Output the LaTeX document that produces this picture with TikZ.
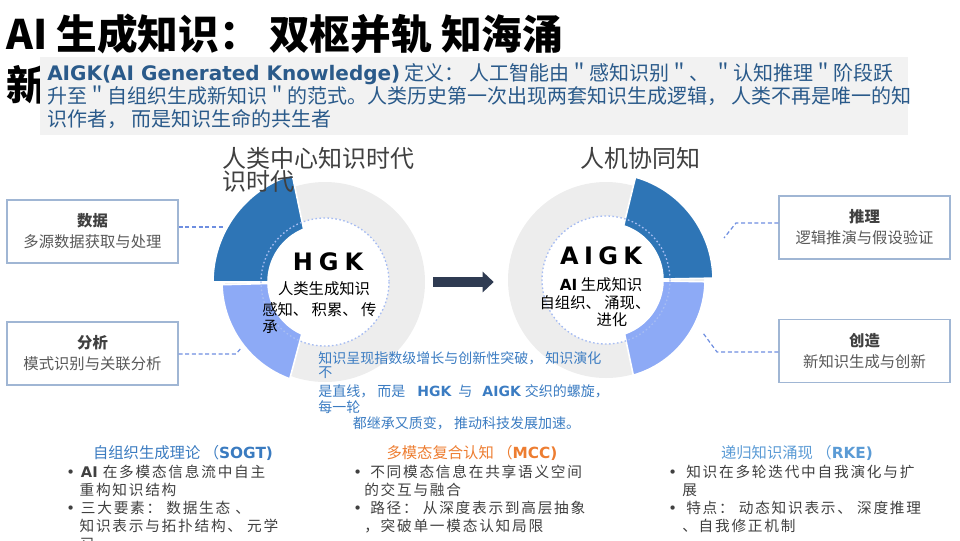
\documentclass[tikz,border=0pt]{standalone}
\usepackage{fontspec}
\setmainfont{Noto Sans CJK SC}
\newfontfamily\dv{DejaVu Sans}
\newfontfamily\cjkwide{Noto Sans CJK SC}[LetterSpace=12]
\usepackage{tikz}
\usetikzlibrary{arrows.meta,calc}
\definecolor{segdark}{RGB}{46,117,182}
\definecolor{seglight}{RGB}{141,170,246}
\definecolor{ringgray}{RGB}{237,237,237}
\definecolor{dotblue}{RGB}{166,188,242}
\definecolor{linkblue}{RGB}{110,142,224}
\definecolor{boxline}{RGB}{160,182,212}
\definecolor{navy}{RGB}{47,59,82}
\definecolor{descbg}{RGB}{242,242,242}
\definecolor{descblue}{RGB}{42,90,138}
\definecolor{trendblue}{RGB}{59,124,194}
\definecolor{headblue}{RGB}{58,123,192}
\definecolor{headorange}{RGB}{237,125,49}
\definecolor{headlight}{RGB}{91,155,213}
\definecolor{darkgray}{RGB}{64,64,64}
\definecolor{midgray}{RGB}{89,89,89}

\begin{document}
\begin{tikzpicture}[x=0.75pt,y=-0.75pt,
  infobox/.style={draw=boxline, line width=1.1pt, fill=white, minimum width=128pt, minimum height=47pt,
    align=center, inner sep=0pt, font=\fontsize{11.5}{15.75}\selectfont},
  link/.style={draw=linkblue, line width=0.9pt, dash pattern=on 3pt off 2pt},
  segment/.style={draw=white, line width=1.2pt},
  ringbase/.style={circle, fill=ringgray, minimum size=150pt, inner sep=0pt},
  ringcore/.style={circle, fill=white, minimum size=96pt, inner sep=0pt},
  dotring/.style={draw=dotblue, line width=1pt, dash pattern=on 1.2pt off 1.8pt},
  bigarrow/.style={draw=navy, line width=7.5pt, -{Triangle[length=8.25pt,width=15pt]}},
  eratitle/.style={anchor=north west, inner sep=0pt, align=left, text=darkgray, font=\fontsize{18}{17.25}\selectfont},
  corelabel/.style={inner sep=0pt, font=\fontsize{11.5}{13}\selectfont},
  colhead/.style={anchor=base, inner sep=0pt, font=\fontsize{11.5}{14}\selectfont},
  colbody/.style={anchor=north west, inner sep=0pt, align=left, text=darkgray, font=\cjkwide\fontsize{11}{13.5}\selectfont}]
\useasboundingbox (0,0) rectangle (960,540);

% Title
\node[anchor=base west, inner sep=0pt, font=\bfseries\fontsize{30.5}{34}\selectfont] (title) at (6,49) {AI 生成知识： 双枢并轨 知海涌};
\node[anchor=base west, inner sep=0pt, font=\bfseries\fontsize{30.5}{34}\selectfont] (titlemore) at (6,100) {新};

% Definition
\node[fill=descbg, anchor=north west, minimum width=651pt, minimum height=58.5pt, inner sep=0pt] (descbox) at (40,57) {};
\node[anchor=north west, inner sep=0pt, align=left, text=descblue, font=\fontsize{15}{17.25}\selectfont] (desc) at (47,63)
  {{\dv\bfseries AIGK(AI Generated Knowledge)} 定义： 人工智能由＂感知识别＂、 ＂认知推理＂阶段跃\\
   升至＂自组织生成新知识＂的范式。人类历史第一次出现两套知识生成逻辑， 人类不再是唯一的知\\
   识作者， 而是知识生命的共生者};

% HGK ring
\coordinate (C1) at (325,282);
\node[ringbase] (hgkring) at (C1) {};
\node[ringcore] (hgkcore) at (C1) {};
\fill[segdark, segment] ($(C1)+(-180:112)$) arc[start angle=-180, end angle=-107, radius=112]
  -- ($(C1)+(-112:57)$) arc[start angle=-112, end angle=-180, radius=57] -- cycle;
\fill[seglight, segment] ($(C1)+(178.5:103)$) arc[start angle=178.5, end angle=110, radius=103]
  -- ($(C1)+(114:57)$) arc[start angle=114, end angle=178.5, radius=57] -- cycle;
\draw[dotring] (C1) circle[radius=64];
\node[corelabel, anchor=base] (hgk) at (328,270) {\dv\bfseries\fontsize{18}{20}\selectfont H\hspace{4.5pt}G\hspace{4.5pt}K};
\node[corelabel, anchor=base] (hgksub) at (324,294) {人类生成知识};
\node[corelabel, anchor=north west, align=left] (hgkverbs) at (262,302) {感知、 积累、 传\\承};

% AIGK ring
\coordinate (C2) at (606,280);
\node[ringbase, minimum size=147pt] (aigkring) at (C2) {};
\node[ringcore] (aigkcore) at (C2) {};
\fill[segdark, segment] ($(C2)+(-1:107)$) arc[start angle=-1, end angle=-74, radius=107]
  -- ($(C2)+(-72:57)$) arc[start angle=-72, end angle=-1, radius=57] -- cycle;
\fill[seglight, segment] ($(C2)+(1:99)$) arc[start angle=1, end angle=74, radius=99]
  -- ($(C2)+(71:57)$) arc[start angle=71, end angle=1, radius=57] -- cycle;
\draw[dotring] (C2) circle[radius=64];
\node[corelabel, anchor=base] (aigk) at (601,264) {\dv\bfseries\fontsize{18}{20}\selectfont A\hspace{4pt}I\hspace{4pt}G\hspace{4pt}K};
\node[corelabel, anchor=base] (aigksub) at (601,290) {{\dv\bfseries AI} 生成知识};
\node[corelabel, anchor=north, align=center] (aigkverbs) at (595,295) {自组织、 涌现、\\\hspace*{2.2em}进化};

% Era titles
\node[eratitle] (hgktitle) at (222,147) {人类中心知识时代\\识时代};
\node[eratitle] (aigktitle) at (580,147) {人机协同知};

% Arrow between eras
\draw[bigarrow] ([xshift=6pt]hgkring.east) -- ($(hgkring.east -| aigkring.west)+(-14,0)$);

% Side boxes
\node[infobox] (data) at (92.5,231.5) {{\bfseries\color{darkgray}数据}\\{\color{midgray}多源数据获取与处理}};
\node[infobox] (analysis) at (92.5,353.5) {{\bfseries\color{darkgray}分析}\\{\color{midgray}模式识别与关联分析}};
\node[infobox] (reason) at (864.5,227.5) {{\bfseries\color{darkgray}推理}\\{\color{midgray}逻辑推演与假设验证}};
\node[infobox] (create) at (864.5,351) {{\bfseries\color{darkgray}创造}\\{\color{midgray}新知识生成与创新}};

% Dashed links
\coordinate (dataend) at (223,227);
\coordinate (anamid) at (236,354);
\coordinate (anaend) at (242,347);
\coordinate (reamid) at (736,223);
\coordinate (reaend) at (724,238);
\coordinate (cremid) at (717,352);
\coordinate (creend) at (703,333);
\draw[link] (data.east |- dataend) -- (dataend);
\draw[link] (analysis.east |- anamid) -- (anamid) -- (anaend);
\draw[link] (reason.west |- reamid) -- (reamid) -- (reaend);
\draw[link] (create.west |- cremid) -- (cremid) -- (creend);

% Spiral note
\node[anchor=north west, inner sep=0pt, align=left, text=trendblue, font=\fontsize{10.5}{12}\selectfont] (trend) at (318,351)
  {知识呈现指数级增长与创新性突破， 知识演化\\[-1.5pt]
   不\\[2.25pt]
   是直线， 而是\hspace{9pt}{\dv\bfseries HGK}\hspace{5.25pt}与\hspace{7.5pt}{\dv\bfseries AIGK}\hspace{3pt}交织的螺旋，\\
   每一轮\\
   \hspace*{26pt}都继承又质变， 推动科技发展加速。};

% Three theories
\node[colhead, text=headblue] (sogt) at (183,458) {自组织生成理论 （{\dv\bfseries SOGT)}};
\node[colhead, text=headorange] (mcc) at (472,458) {多模态复合认知 （{\dv\bfseries MCC)}};
\node[colhead, text=headlight] (rke) at (797,458) {递归知识涌现 （{\dv\bfseries RKE)}};
\node[colbody] (sogtbody) at (66,465)
  {\makebox[11pt][l]{\dv •}{\dv\bfseries AI} 在多模态信息流中自主\\
   \hspace*{10pt}重构知识结构\\
   \makebox[11pt][l]{\dv •}三大要素： 数据生态 、\\
   \hspace*{10pt}知识表示与拓扑结构、 元学\\
   \hspace*{10pt}习};
\node[colbody] (mccbody) at (353,465)
  {\makebox[12.75pt][l]{\dv •}不同模态信息在共享语义空间\\
   \hspace*{8.25pt}的交互与融合\\
   \makebox[12.75pt][l]{\dv •}路径： 从深度表示到高层抽象\\
   \hspace*{8.25pt}，突破单一模态认知局限};
\node[colbody] (rkebody) at (668,465)
  {\makebox[13.5pt][l]{\dv •}知识在多轮迭代中自我演化与扩\\
   \hspace*{10.5pt}展\\
   \makebox[13.5pt][l]{\dv •}特点： 动态知识表示、 深度推理\\
   \hspace*{10.5pt}、自我修正机制};
\end{tikzpicture}
\end{document}
